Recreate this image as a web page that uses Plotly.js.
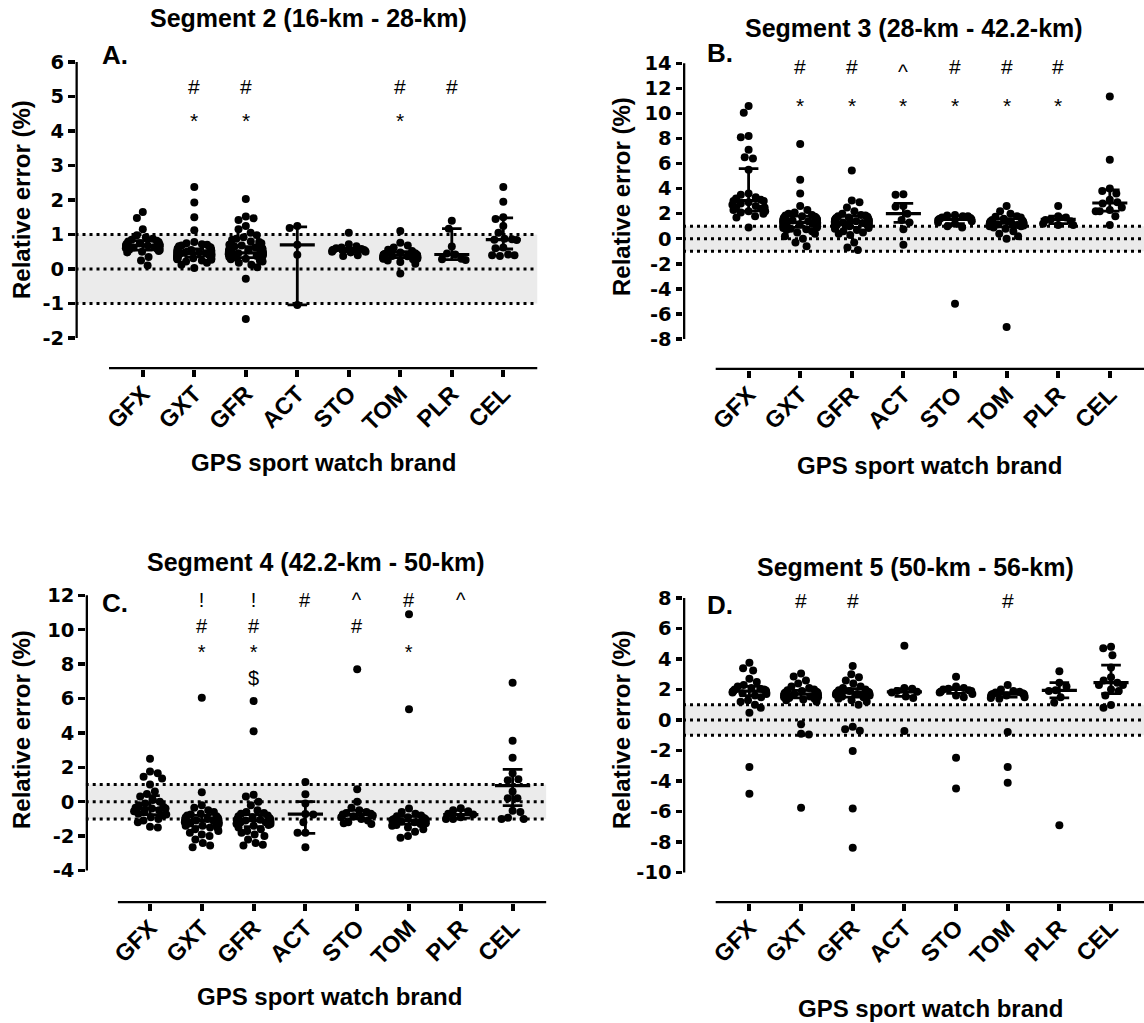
<!DOCTYPE html>
<html>
<head>
<meta charset="utf-8">
<script src="https://cdn.plot.ly/plotly-3.0.1.min.js"></script>
<style>html,body{margin:0;padding:0;background:#fff}#chart{width:1144px;height:1023px}</style>
</head>
<body>
<div id="chart"></div>
<script>
// ---------------- DATA ----------------
const categories = ['GFX', 'GXT', 'GFR', 'ACT', 'STO', 'TOM', 'PLR', 'CEL'];

// Segment 2 (panel A)
const seg2Points = [
  [1.65,1.48,1.15,0.98,0.92,0.88,0.85,0.82,0.8,0.78,0.75,0.73,0.72,0.7,0.7,0.68,0.67,0.65,0.63,0.62,0.6,0.58,0.56,0.55,0.52,0.5,0.48,0.35,0.25,0.1],
  [2.38,1.93,1.5,1.12,0.78,0.75,0.72,0.7,0.68,0.66,0.64,0.62,0.6,0.58,0.56,0.55,0.54,0.52,0.5,0.5,0.48,0.47,0.46,0.45,0.45,0.44,0.43,0.42,0.41,0.4,0.4,0.39,0.38,0.37,0.36,0.35,0.34,0.33,0.32,0.31,0.3,0.3,0.29,0.28,0.27,0.25,0.22,0.18,0.12,0.03],
  [2.03,1.52,1.47,1.42,1.25,1.15,1.05,0.98,0.92,0.88,0.85,0.8,0.78,0.75,0.72,0.7,0.68,0.65,0.62,0.6,0.58,0.56,0.55,0.54,0.52,0.5,0.5,0.49,0.48,0.47,0.46,0.45,0.44,0.43,0.42,0.4,0.4,0.38,0.36,0.35,0.33,0.3,0.28,0.25,0.22,0.18,0.12,0.05,-0.28,-1.45],
  [1.25,1.19,0.7,0.41,-1.04],
  [1.05,0.72,0.66,0.62,0.6,0.58,0.56,0.55,0.54,0.52,0.5,0.5,0.48,0.4,0.38],
  [1.1,0.76,0.68,0.62,0.56,0.52,0.48,0.46,0.44,0.43,0.42,0.41,0.4,0.4,0.39,0.38,0.37,0.36,0.35,0.34,0.33,0.32,0.31,0.3,0.3,0.28,0.25,0.2,0.15,-0.13],
  [1.4,1.17,0.65,0.45,0.42,0.3,0.28,0.26],
  [2.38,1.95,1.5,1.45,1.25,1.05,0.88,0.86,0.85,0.84,0.62,0.6,0.42,0.4,0.4,0.38]
];
const seg2Median = [0.68, 0.45, 0.47, 0.7, 0.55, 0.4, 0.42, 0.85];
const seg2Q1     = [0.55, 0.35, 0.33, -1.04, 0.5, 0.33, 0.27, 0.58];
const seg2Q3     = [0.82, 0.58, 0.65, 1.22, 0.6, 0.5, 1.17, 1.48];
const seg2Marks  = [[], ['#','*'], ['#','*'], [], [], ['#','*'], ['#'], []];

// Segment 3 (panel B)
const seg3Points = [
  [10.6,10.05,8.2,8.1,7.1,6.5,6.4,5.5,3.6,3.5,3.3,3.2,3.1,3.0,3.0,2.9,2.8,2.7,2.6,2.5,2.5,2.4,2.3,2.2,2.2,2.1,2.0,1.8,1.7,0.9],
  [7.55,4.7,3.6,2.6,2.3,2.1,2.0,1.9,1.85,1.8,1.75,1.7,1.65,1.6,1.55,1.5,1.5,1.45,1.4,1.4,1.35,1.3,1.3,1.25,1.2,1.2,1.15,1.1,1.1,1.05,1.0,1.0,0.95,0.9,0.85,0.8,0.75,0.7,0.6,0.5,0.4,0.2,0.0,-0.3,-0.6],
  [5.45,3.05,2.9,2.5,2.2,2.0,1.9,1.85,1.8,1.75,1.7,1.65,1.6,1.55,1.5,1.5,1.45,1.4,1.4,1.35,1.3,1.3,1.25,1.2,1.2,1.15,1.1,1.1,1.05,1.0,1.0,0.95,0.9,0.85,0.8,0.7,0.6,0.5,0.4,0.3,-0.3,-0.7,-0.9],
  [3.55,3.5,2.6,2.55,2.0,1.5,1.3,0.75,-0.48],
  [1.9,1.85,1.8,1.8,1.7,1.65,1.6,1.55,1.5,1.5,1.4,1.3,1.2,1.0,0.9,-5.2],
  [2.6,2.2,2.0,1.8,1.75,1.7,1.6,1.5,1.45,1.4,1.35,1.3,1.3,1.25,1.2,1.2,1.15,1.1,1.1,1.05,1.0,1.0,0.9,0.8,0.6,0.4,0.2,0.0,-7.05],
  [2.6,1.8,1.7,1.55,1.5,1.4,1.2,1.1,1.1],
  [11.35,6.3,4.0,3.8,3.6,3.1,2.9,2.8,2.5,2.3,2.2,2.2,1.8,1.1]
];
const seg3Median = [3.05, 1.3, 1.3, 2.0, 1.55, 1.25, 1.55, 2.85];
const seg3Q1     = [2.2, 0.9, 0.9, 1.3, 1.2, 0.95, 1.2, 2.2];
const seg3Q3     = [5.6, 1.8, 1.8, 2.82, 1.8, 1.6, 1.8, 3.9];
const seg3Marks  = [[], ['#','*'], ['#','*'], ['^','*'], ['#','*'], ['#','*'], ['#','*'], []];

// Segment 4 (panel C)
const seg4Points = [
  [2.5,1.75,1.65,1.45,1.35,1.0,0.6,0.45,0.3,0.1,0.0,-0.1,-0.2,-0.3,-0.35,-0.4,-0.4,-0.5,-0.55,-0.6,-0.7,-0.75,-0.8,-0.9,-1.0,-1.1,-1.2,-1.45,-1.5],
  [6.05,0.55,-0.2,-0.35,-0.5,-0.6,-0.7,-0.75,-0.8,-0.85,-0.9,-0.95,-1.0,-1.0,-1.05,-1.1,-1.1,-1.15,-1.2,-1.2,-1.25,-1.3,-1.3,-1.35,-1.4,-1.4,-1.5,-1.55,-1.6,-1.7,-1.8,-1.9,-2.0,-2.2,-2.4,-2.55,-2.65],
  [5.85,4.1,0.4,0.3,0.0,-0.2,-0.5,-0.6,-0.65,-0.7,-0.8,-0.85,-0.9,-0.95,-1.0,-1.0,-1.05,-1.1,-1.1,-1.15,-1.2,-1.2,-1.25,-1.3,-1.3,-1.35,-1.4,-1.5,-1.6,-1.7,-1.8,-1.9,-2.0,-2.2,-2.4,-2.5,-2.55],
  [1.15,0.43,-0.1,-0.72,-0.75,-1.2,-1.8,-1.8,-2.65],
  [7.7,0.72,0.0,-0.35,-0.5,-0.6,-0.65,-0.7,-0.75,-0.8,-0.85,-0.9,-1.0,-1.1,-1.2,-1.25,-1.3],
  [10.9,5.37,-0.4,-0.6,-0.7,-0.8,-0.85,-0.9,-0.95,-1.0,-1.0,-1.05,-1.1,-1.1,-1.15,-1.2,-1.25,-1.3,-1.35,-1.4,-1.5,-1.6,-1.75,-2.0,-2.1],
  [-0.38,-0.5,-0.55,-0.7,-0.75,-0.9,-1.0,-1.0],
  [6.92,3.55,2.56,1.65,1.3,1.25,0.6,0.2,0.2,-0.52,-0.6,-0.93,-1.0,-1.0]
];
const seg4Median = [-0.4, -1.1, -1.1, -0.72, -0.75, -1.1, -0.75, 0.93];
const seg4Q1     = [-0.75, -1.45, -1.45, -1.84, -1.0, -1.3, -0.95, -0.23];
const seg4Q3     = [0.35, -0.8, -0.75, 0.0, -0.5, -0.85, -0.5, 1.88];
const seg4Marks  = [[], ['!','#','*'], ['!','#','*','$'], ['#'], ['^','#'], ['#','','*'], ['^'], []];

// Segment 5 (panel D)
const seg5Points = [
  [3.75,3.4,3.25,2.7,2.5,2.3,2.2,2.1,2.05,2.0,2.0,1.95,1.9,1.9,1.85,1.8,1.8,1.75,1.7,1.6,1.5,1.3,1.2,1.0,0.8,0.48,-3.08,-4.84],
  [3.05,2.85,2.6,2.4,2.2,2.1,2.0,1.95,1.9,1.85,1.8,1.8,1.75,1.7,1.7,1.65,1.6,1.6,1.55,1.5,1.5,1.45,1.4,1.35,1.3,1.2,-0.28,-0.9,-0.95,-5.75],
  [3.55,3.0,2.8,2.6,2.4,2.2,2.1,2.0,1.95,1.9,1.85,1.8,1.8,1.75,1.7,1.7,1.65,1.6,1.55,1.5,1.4,1.3,1.2,1.0,-0.45,-0.61,-0.7,-2.03,-5.8,-8.38],
  [4.88,2.1,2.05,1.9,1.85,1.8,1.55,1.45,-0.72],
  [2.84,2.2,2.1,2.05,2.0,1.95,1.9,1.85,1.8,1.7,1.6,1.5,-2.47,-4.49],
  [2.3,2.0,1.9,1.85,1.8,1.75,1.7,1.7,1.65,1.6,1.6,1.55,1.5,1.45,1.4,-0.79,-3.09,-4.11],
  [3.2,2.45,2.2,1.95,1.9,1.5,1.15,-6.9],
  [4.8,4.7,4.25,3.44,2.8,2.6,2.45,2.3,2.3,2.0,1.9,1.6,0.98,0.81]
];
const seg5Median = [1.9, 1.7, 1.8, 1.85, 2.0, 1.7, 1.95, 2.45];
const seg5Q1     = [1.6, 1.45, 1.5, 1.55, 1.75, 1.5, 1.45, 1.73];
const seg5Q3     = [2.2, 1.95, 2.05, 2.05, 2.1, 1.8, 2.45, 3.6];
const seg5Marks  = [[], ['#'], ['#'], [], [], ['#'], [], []];

const panelTitles = ['Segment 2 (16-km - 28-km)', 'Segment 3 (28-km - 42.2-km)', 'Segment 4 (42.2-km - 50-km)', 'Segment 5 (50-km - 56-km)'];
const panelLetters = ['A.', 'B.', 'C.', 'D.'];
const yTitleText = 'Relative error (%)';
const xTitleText = 'GPS sport watch brand';

// ---------------- LAYOUT GEOMETRY (pixels) ----------------
const W = 1144, H = 1023;
const geom = [
  {axisX:75.5, cat0:142.8, step:51.5, right:537.5, lineStartX:109, xLineY:369.3, v0:269, ppu:34.5, yMin:-2, yMax:6, dtick:1,
   titleX:308, titleY:18.3, letterX:115, letterY:55, yTitleX:21, yTitleY:200, xTitleX:323, xTitleY:462,
   markRows:[86.7,115], stack:false},
  {axisX:683, cat0:748.6, step:51.6, right:1144, lineStartX:715.7, xLineY:370, v0:238.7, ppu:12.53, yMin:-8, yMax:14, dtick:2,
   titleX:914, titleY:28.3, letterX:720, letterY:53.3, yTitleX:621, yTitleY:197, xTitleX:929, xTitleY:465,
   markRows:[66.7,100], stack:false},
  {axisX:85.7, cat0:150, step:51.8, right:546.4, lineStartX:117.9, xLineY:903.3, v0:801.7, ppu:17.2, yMin:-4, yMax:12, dtick:2,
   titleX:316, titleY:561.7, letterX:115, letterY:603.3, yTitleX:21, yTitleY:730, xTitleX:330, xTitleY:996.7,
   markRows:[601], stack:true},
  {axisX:683, cat0:749.4, step:51.66, right:1144, lineStartX:715.7, xLineY:903.3, v0:720, ppu:15.24, yMin:-10, yMax:8, dtick:2,
   titleX:915, titleY:566.7, letterX:720, letterY:605, yTitleX:621, yTitleY:730, xTitleX:930, xTitleY:1008.3,
   markRows:[600], stack:false}
];
const panelData = [
  {pts:seg2Points, med:seg2Median, q1:seg2Q1, q3:seg2Q3, marks:seg2Marks},
  {pts:seg3Points, med:seg3Median, q1:seg3Q1, q3:seg3Q3, marks:seg3Marks},
  {pts:seg4Points, med:seg4Median, q1:seg4Q1, q3:seg4Q3, marks:seg4Marks},
  {pts:seg5Points, med:seg5Median, q1:seg5Q1, q3:seg5Q3, marks:seg5Marks}
];

const FONT = 'Liberation Sans, Arial, Helvetica, sans-serif';
const NUMFONT = 'DejaVu Sans, sans-serif';

// beeswarm offsets in pixels (layout only, derived from values)
function swarm(vals, ppuY, d, maxHalf) {
  const order = vals.map((v, i) => i).sort((a, b) => vals[b] - vals[a]);
  const placed = [];
  const off = new Array(vals.length).fill(0);
  let flip = 1;
  for (const i of order) {
    const y = vals[i] * ppuY;
    const ivs = [];
    for (const p of placed) {
      const dy = Math.abs(p.y - y);
      if (dy < d) { const w = Math.sqrt(d * d - dy * dy); ivs.push([p.x - w, p.x + w]); }
    }
    const cands = [0];
    ivs.forEach(iv => cands.push(iv[0], iv[1]));
    let best = null;
    for (const c of cands) {
      if (ivs.some(iv => c > iv[0] + 1e-6 && c < iv[1] - 1e-6)) continue;
      if (best === null || Math.abs(c) < Math.abs(best) - 1e-6 ||
          (Math.abs(Math.abs(c) - Math.abs(best)) < 1e-6 && c * flip > 0)) best = c;
    }
    flip = -flip;
    off[i] = best;
    placed.push({x: best, y: y});
  }
  return off.map(o => maxHalf * Math.tanh(o / maxHalf));
}

const traces = [];
const shapes = [];
const annotations = [];
const layout = {
  width: W, height: H,
  margin: {l: 0, r: 0, t: 0, b: 0},
  paper_bgcolor: '#ffffff', plot_bgcolor: 'rgba(0,0,0,0)',
  showlegend: false,
  font: {family: FONT, color: '#000'}
};

geom.forEach((g, k) => {
  const sfx = k === 0 ? '' : String(k + 1);
  const xa = 'x' + sfx, ya = 'y' + sfx;
  const d = panelData[k];
  const valAt = px => (g.v0 - px) / g.ppu;
  const xr = [(g.axisX - g.cat0) / g.step, (g.right - g.cat0) / g.step];
  const topPx = g.v0 - g.yMax * g.ppu - 3;
  const yr = [valAt(g.xLineY), valAt(topPx)];
  const tv = [];
  for (let v = g.yMin; v <= g.yMax + 1e-9; v += g.dtick) tv.push(v);

  layout['xaxis' + sfx] = {
    domain: [g.axisX / W, g.right / W], range: xr, anchor: ya,
    tickmode: 'array', tickvals: categories.map((c, i) => i), ticktext: categories,
    tickangle: -45, ticks: 'outside', ticklen: 6.5, tickwidth: 4, tickcolor: '#000',
    ticklabelstandoff: -6,
    tickfont: {family: FONT, size: 23.5, weight: 'bold', color: '#000'},
    showline: false, showgrid: false, zeroline: false, fixedrange: true
  };
  layout['yaxis' + sfx] = {
    domain: [1 - g.xLineY / H, 1 - topPx / H], range: yr, anchor: xa,
    tickmode: 'array', tickvals: tv, ticktext: tv.map(String),
    ticks: 'outside', ticklen: 6.5, tickwidth: 3.5, tickcolor: '#000',
    tickfont: {family: NUMFONT, size: 19.5, weight: 'bold', color: '#000'},
    showline: false, showgrid: false, zeroline: false, fixedrange: true
  };

  // grey band and dotted reference lines
  shapes.push({type: 'rect', xref: xa, yref: ya, x0: xr[0], x1: xr[1], y0: -1, y1: 1,
    fillcolor: '#ebebeb', line: {width: 0}, layer: 'below'});
  [-1, 0, 1].forEach(v => shapes.push({type: 'line', xref: xa, yref: ya, x0: xr[0], x1: xr[1], y0: v, y1: v,
    line: {color: '#000', width: 3, dash: '3px,4px'}, layer: 'below'}));
  // axis lines
  shapes.push({type: 'line', xref: xa, yref: ya, x0: xr[0], x1: xr[0], y0: g.yMin, y1: g.yMax,
    line: {color: '#000', width: 4.6}});
  shapes.push({type: 'line', xref: xa, yref: ya, x0: (g.lineStartX - g.cat0) / g.step, x1: xr[1], y0: yr[0], y1: yr[0],
    line: {color: '#000', width: 4.4}});

  // points
  const px = [], py = [];
  d.pts.forEach((vals, i) => {
    const offs = swarm(vals, g.ppu, 8.5, 17);
    vals.forEach((v, j) => { px.push(i + offs[j] / g.step); py.push(v); });
  });
  traces.push({type: 'scatter', mode: 'markers', x: px, y: py, xaxis: xa, yaxis: ya,
    marker: {size: 8, color: '#000'}, cliponaxis: false, hoverinfo: 'skip'});

  // median + IQR
  const mx = [], my = [], ex = [], ey = [];
  categories.forEach((c, i) => {
    mx.push(i - 0.34, i + 0.34, null); my.push(d.med[i], d.med[i], null);
    ex.push(i, i, null); ey.push(d.q1[i], d.q3[i], null);
    ex.push(i - 0.19, i + 0.19, null); ey.push(d.q1[i], d.q1[i], null);
    ex.push(i - 0.19, i + 0.19, null); ey.push(d.q3[i], d.q3[i], null);
  });
  traces.push({type: 'scatter', mode: 'lines', x: ex, y: ey, xaxis: xa, yaxis: ya,
    line: {color: '#000', width: 2.8}, cliponaxis: false, hoverinfo: 'skip'});
  traces.push({type: 'scatter', mode: 'lines', x: mx, y: my, xaxis: xa, yaxis: ya,
    line: {color: '#000', width: 3.2}, cliponaxis: false, hoverinfo: 'skip'});

  // significance symbols
  d.marks.forEach((list, i) => {
    if (!list.length) return;
    if (g.stack) {
      const fs = 20;
      annotations.push({xref: xa, yref: 'paper', x: i, y: 1 - (g.markRows[0] - 0.65 * fs) / H,
        text: list.map(s => s || ' ').join('<br>'), showarrow: false, xanchor: 'center', yanchor: 'top',
        borderpad: 0, font: {family: FONT, size: fs, color: '#000'}});
    } else {
      list.forEach((s, r) => {
        if (!s) return;
        const shift = (s === '*' || s === '^') ? -5 : 0;
        annotations.push({xref: xa, yref: 'paper', x: i, y: 1 - g.markRows[r] / H,
          text: s, showarrow: false, xanchor: 'center', yanchor: 'middle', yshift: shift, borderpad: 0,
          font: {family: FONT, size: 21, color: '#000'}});
      });
    }
  });

  // titles and labels
  annotations.push({xref: 'paper', yref: 'paper', x: g.titleX / W, y: 1 - g.titleY / H, text: panelTitles[k],
    showarrow: false, xanchor: 'center', yanchor: 'middle', font: {family: FONT, size: 25, weight: 'bold', color: '#000'}});
  annotations.push({xref: 'paper', yref: 'paper', x: g.letterX / W, y: 1 - g.letterY / H, text: panelLetters[k],
    showarrow: false, xanchor: 'center', yanchor: 'middle', font: {family: FONT, size: 26, weight: 'bold', color: '#000'}});
  annotations.push({xref: 'paper', yref: 'paper', x: g.yTitleX / W, y: 1 - g.yTitleY / H, text: yTitleText,
    textangle: -90, showarrow: false, xanchor: 'center', yanchor: 'middle', font: {family: FONT, size: 24, weight: 'bold', color: '#000'}});
  annotations.push({xref: 'paper', yref: 'paper', x: g.xTitleX / W, y: 1 - g.xTitleY / H, text: xTitleText,
    showarrow: false, xanchor: 'center', yanchor: 'middle', font: {family: FONT, size: 24, weight: 'bold', color: '#000'}});
});

layout.shapes = shapes;
layout.annotations = annotations;

Plotly.newPlot('chart', traces, layout, {staticPlot: true, displayModeBar: false});
</script>
</body>
</html>
